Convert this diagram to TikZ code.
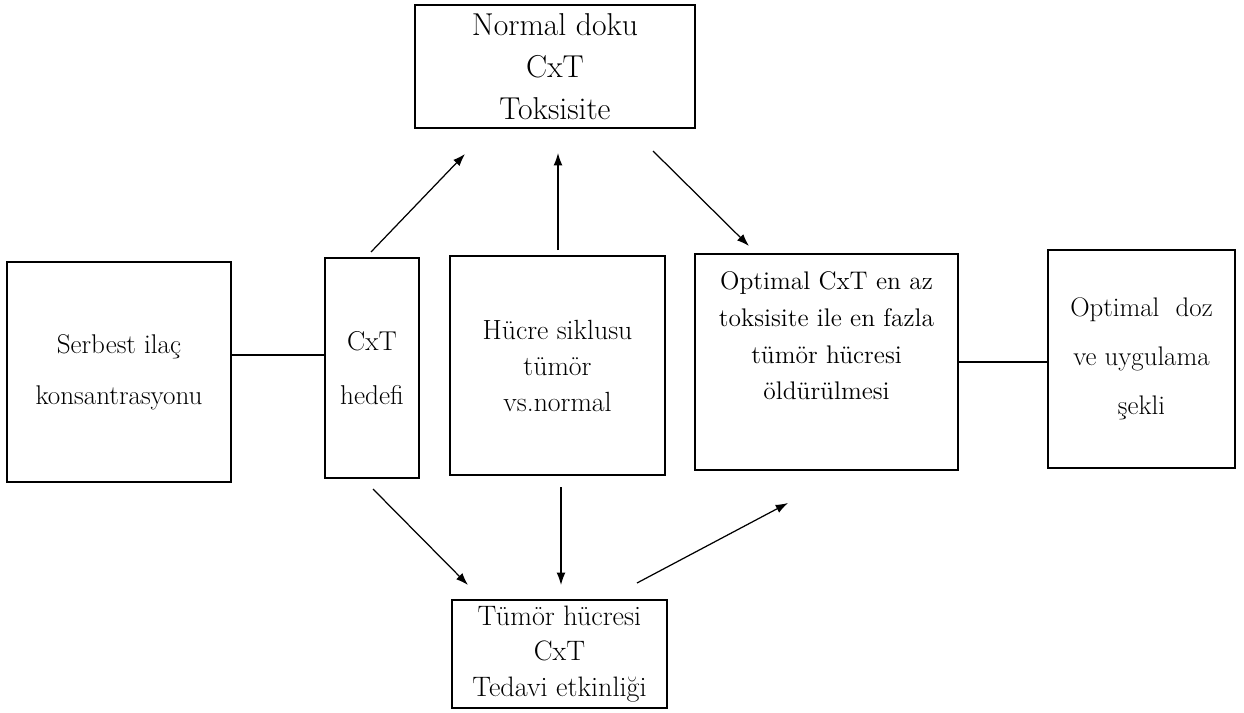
\documentclass[tikz,border=0pt]{standalone}
\usepackage{fontspec}
\usepackage{tikz}
\usetikzlibrary{arrows.meta}

\begin{document}
\begin{tikzpicture}[x=0.02cm,y=-0.02cm,
        box/.style={draw,line width=0.9pt,align=center,inner sep=2pt},
        arr/.style={-{Latex[length=7pt,width=5pt]},line width=0.7pt}]
            \useasboundingbox (0,0) rectangle (1244,713);
            \node [box,minimum width=5.6cm,minimum height=2.46cm,font=\fontsize{18}{24}\selectfont] (normal) at (555,66.5) {Normal doku\\CxT\\Toksisite};
            \node [box,minimum width=4.48cm,minimum height=4.4cm,font=\fontsize{15.4}{29}\selectfont] (serbest) at (119,372) {Serbest ilaç\\konsantrasyonu};
            \node [box,minimum width=1.88cm,minimum height=4.4cm,font=\fontsize{15.5}{31}\selectfont] (hedef) at (372,368) {CxT\\hedefi};
            \node [box,minimum width=4.3cm,minimum height=4.38cm,font=\fontsize{15.8}{20.5}\selectfont] (hucre) at (557.5,365.5) {Hücre siklusu\\tümör\\vs.normal};
            \node [box,minimum width=5.26cm,minimum height=4.32cm,font=\fontsize{14.5}{21}\selectfont] (optimal) at (826.5,362) {Optimal CxT en az\\toksisite ile en fazla\\tümör hücresi\\öldürülmesi\\[9pt]\mbox{}};
            \node [box,minimum width=3.74cm,minimum height=4.36cm,font=\fontsize{15.3}{28}\selectfont] (doz) at (1141.5,359) {Optimal~~doz\\ve uygulama\\şekli};
            \node [box,minimum width=4.3cm,minimum height=2.16cm,font=\fontsize{16}{20}\selectfont] (tumor) at (559.5,654) {Tümör hücresi\\CxT\\Tedavi etkinliği};

            % free ends of the arrows
            \coordinate (h1) at (371,252);
            \coordinate (n1) at (465,154);
            \coordinate (h2) at (558,250);
            \coordinate (n2) at (558,153);
            \coordinate (n3) at (653,151);
            \coordinate (o3) at (749,246);
            \coordinate (h4) at (373,489);
            \coordinate (t4) at (468,585);
            \coordinate (h5) at (561,487);
            \coordinate (t5) at (561,585);
            \coordinate (t6) at (637,583);
            \coordinate (o6) at (788,503);

            \draw [line width=0.8pt] ([yshift=0.34cm]serbest.east) -- ([yshift=0.34cm]serbest.east -| hedef.west);
            \draw [line width=0.8pt] (optimal.east) -- (optimal.east -| doz.west);
            \draw [arr] (h1) -- (n1);
            \draw [arr] (h2) -- (n2);
            \draw [arr] (n3) -- (o3);
            \draw [arr] (h4) -- (t4);
            \draw [arr] (h5) -- (t5);
            \draw [arr] (t6) -- (o6);
        \end{tikzpicture}
\end{document}
